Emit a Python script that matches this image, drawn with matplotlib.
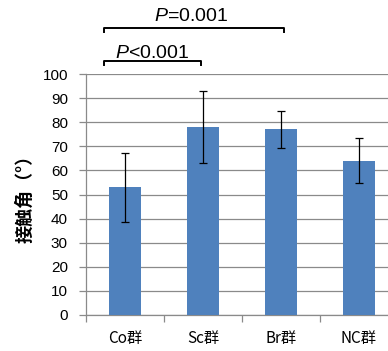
import matplotlib
matplotlib.use("Agg")
import matplotlib.pyplot as plt
import numpy as np

plt.rcParams["mathtext.fontset"] = "custom"
plt.rcParams["mathtext.it"] = "Liberation Sans:italic"
plt.rcParams["mathtext.rm"] = "Liberation Sans"

categories = ["Co群", "Sc群", "Br群", "NC群"]
means = [53, 78, 77, 64]
errors = [14.3, 15.0, 7.5, 9.3]
yticks = [0, 10, 20, 30, 40, 50, 60, 70, 80, 90, 100]
ylabel = "接触角（°）"
comparisons = [("P<0.001", 0, 1), ("P=0.001", 0, 2)]

W, H = 388, 351
fig = plt.figure(figsize=(W / 100, H / 100), dpi=100)
ax = fig.add_axes([86 / W, 36 / H, 312 / W, 241 / H])

x = np.arange(len(categories))
ax.bar(x, means, width=0.4, color="#4F81BD", zorder=3)
ax.errorbar(x, means, yerr=errors, fmt="none", ecolor="black", elinewidth=0.9,
            capsize=3, capthick=0.9, zorder=4)

ax.set_xlim(-0.5, 3.5)
ax.set_ylim(0, 100)
ax.set_yticks(yticks)
ax.set_yticklabels([str(v) for v in yticks], family=["Liberation Sans"], fontsize=11)
ax.yaxis.grid(True, color="#8a8a8a", linewidth=0.9, zorder=0)
ax.set_axisbelow(True)

ax.set_xticks(x)
ax.set_xticklabels(categories, family=["Noto Sans CJK SC", "DejaVu Sans"], fontsize=11)
ax.set_xticks(np.arange(-0.5, 4.0, 1.0), minor=True)
ax.tick_params(axis="x", which="major", length=0, pad=11)
ax.tick_params(axis="x", which="minor", length=5, color="#8a8a8a", width=0.9)
ax.tick_params(axis="y", length=5, color="#8a8a8a", width=0.9, pad=8)

for s in ["top", "right"]:
    ax.spines[s].set_visible(False)
for s in ["left", "bottom"]:
    ax.spines[s].set_color("#8a8a8a")
    ax.spines[s].set_linewidth(0.9)

fig.text(25 / W, 1 - 194 / H, ylabel, rotation=90, ha="center", va="center",
         fontsize=13, fontweight="bold", family=["Noto Sans CJK SC", "DejaVu Sans"])

# significance brackets
levels = [105.4, 119.1]
text_y = [106.6, 122.0]
text_x = [0.35, 0.85]
for (label, i, j), yl, ty, tx in zip(comparisons, levels, text_y, text_x):
    x0 = i - 0.27
    x1 = j + (-0.03 if j == 1 else 0.04)
    ax.plot([x0, x0, x1, x1], [yl - 1.7, yl, yl, yl - 1.7], color="black",
            linewidth=1.4, clip_on=False, zorder=5)
    ax.text(tx, ty, r"$\mathit{P}$" + label[1:], ha="center", va="baseline",
            fontsize=14, family=["Liberation Sans"], clip_on=False)

fig.savefig("out.png", dpi=100)
